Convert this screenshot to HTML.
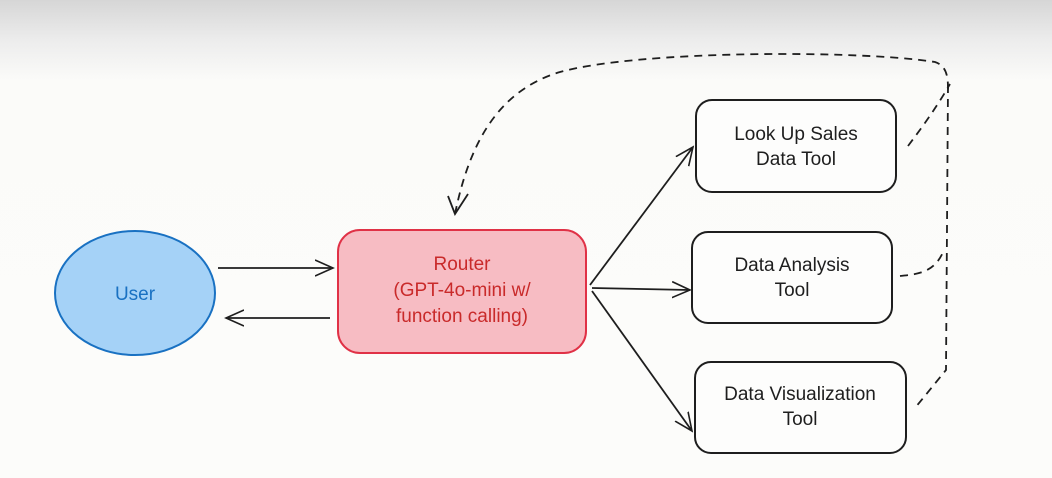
<!DOCTYPE html>
<html><head><style>
html,body{margin:0;padding:0;}
body{width:1052px;height:478px;overflow:hidden;background:linear-gradient(#d6d6d6 0px,#ececec 40px,#fbfbf9 80px,#fcfcfa 478px);font-family:"Liberation Sans",sans-serif;}
svg{position:absolute;left:0;top:0;}
text{font-family:"Comic Sans MS","Liberation Sans",sans-serif;font-size:19px;text-anchor:middle;}
</style></head><body>
<svg width="1052" height="478" viewBox="0 0 1052 478">
<defs><marker id="a" markerWidth="20" markerHeight="20" refX="18" refY="10" orient="auto" markerUnits="userSpaceOnUse"><path d="M0,2 L18,10 L0,18" fill="none" stroke="#1e1e1e" stroke-width="1.6"/></marker></defs>
<ellipse cx="135" cy="293" rx="80" ry="62" fill="#a5d2f7" stroke="#1971c2" stroke-width="2"/>
<text x="135" y="300" fill="#1971c2">User</text>
<rect x="338" y="230" width="248" height="123" rx="22" fill="#f7bcc3" stroke="#e03146" stroke-width="2"/>
<text x="462" y="270" fill="#c92a2a">Router</text>
<text x="462" y="296" fill="#c92a2a">(GPT-4o-mini w/</text>
<text x="462" y="322" fill="#c92a2a">function calling)</text>
<rect x="696" y="100" width="200" height="92" rx="16" fill="#fdfdfc" stroke="#1e1e1e" stroke-width="2"/>
<text x="796" y="140" fill="#1e1e1e">Look Up Sales</text>
<text x="796" y="165" fill="#1e1e1e">Data Tool</text>
<rect x="692" y="232" width="200" height="91" rx="16" fill="#fdfdfc" stroke="#1e1e1e" stroke-width="2"/>
<text x="792" y="271" fill="#1e1e1e">Data Analysis</text>
<text x="792" y="296" fill="#1e1e1e">Tool</text>
<rect x="695" y="362" width="211" height="91" rx="16" fill="#fdfdfc" stroke="#1e1e1e" stroke-width="2"/>
<text x="800" y="400" fill="#1e1e1e">Data Visualization</text>
<text x="800" y="425" fill="#1e1e1e">Tool</text>
<g stroke="#1e1e1e" stroke-width="1.8" fill="none">
<line x1="218" y1="268" x2="333" y2="268" marker-end="url(#a)"/>
<line x1="330" y1="318" x2="226" y2="318" marker-end="url(#a)"/>
<line x1="590" y1="285" x2="693" y2="147" marker-end="url(#a)"/>
<line x1="592" y1="288" x2="690" y2="290" marker-end="url(#a)"/>
<line x1="592" y1="291" x2="692" y2="431" marker-end="url(#a)"/>
<g stroke-dasharray="8,6">
<path d="M455 214 C470 140 500 90 560 72 C640 50 860 50 935 62 C948 66 948 80 948 90"/>
<path d="M948 85 L946 370 L915 408"/>
<path d="M908 146 C920 130 935 110 950 84"/>
<path d="M900 276 C920 274 935 272 944 250"/>
</g>
</g>
<path d="M448 196 L455 214 L468 194" stroke="#1e1e1e" stroke-width="1.8" fill="none"/>
</svg>
</body></html>
